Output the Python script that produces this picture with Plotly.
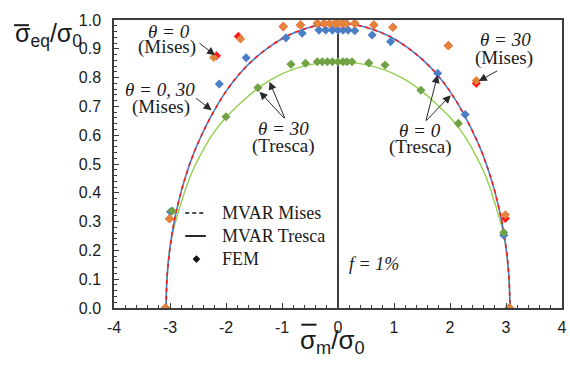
import plotly.graph_objects as go

# ---- model curves (MVAR) ----
curve_x = [-3.07, -3.06, -3.04, -3.0, -2.95, -2.9, -2.8, -2.7, -2.6, -2.5, -2.25, -2.0,
           -1.75, -1.5, -1.25, -1.0, -0.75, -0.5, -0.25, 0.0,
           0.25, 0.5, 0.75, 1.0, 1.25, 1.5, 1.75, 2.0, 2.25, 2.5, 2.6, 2.7, 2.8, 2.9,
           2.95, 3.0, 3.04, 3.06, 3.07]
mises_eq = [0.0, 0.080, 0.138, 0.210, 0.274, 0.324, 0.405, 0.470, 0.525, 0.573, 0.672, 0.752,
            0.815, 0.864, 0.903, 0.935, 0.958, 0.975, 0.985, 0.988,
            0.985, 0.975, 0.958, 0.935, 0.903, 0.864, 0.815, 0.752, 0.672, 0.573, 0.525, 0.470,
            0.405, 0.324, 0.274, 0.210, 0.138, 0.080, 0.0]
tresca0_eq = list(mises_eq)
tresca30_eq = [0.0, 0.08, 0.14, 0.21, 0.262, 0.30, 0.365, 0.425, 0.475, 0.515, 0.600, 0.662,
               0.710, 0.752, 0.787, 0.813, 0.832, 0.845, 0.852, 0.855,
               0.852, 0.845, 0.832, 0.813, 0.787, 0.752, 0.710, 0.662, 0.600, 0.515, 0.475,
               0.425, 0.365, 0.30, 0.262, 0.21, 0.14, 0.08, 0.0]

# ---- FEM results ----
fem_mises0_x = [-3.08, -3.01, -2.17, -1.78, -0.98, -0.67, -0.37, -0.25, -0.15, -0.05, 0.0,
                0.08, 0.15, 0.3, 0.64, 0.98, 1.97, 2.47, 2.99, 3.06]
fem_mises0_y = [0.0, 0.31, 0.876, 0.943, 0.977, 0.983, 0.988, 0.988, 0.988, 0.988, 0.988,
                0.988, 0.988, 0.988, 0.983, 0.975, 0.911, 0.780, 0.311, 0.0]
fem_mises30_x = [-3.08, -3.01, -2.22, -1.74, -0.97, -0.67, -0.37, -0.25, -0.15, -0.05, 0.0,
                 0.08, 0.15, 0.3, 0.64, 0.98, 1.97, 2.47, 2.99, 3.06]
fem_mises30_y = [0.0, 0.31, 0.870, 0.934, 0.977, 0.983, 0.988, 0.988, 0.988, 0.988, 0.988,
                 0.988, 0.988, 0.988, 0.983, 0.975, 0.911, 0.790, 0.324, 0.0]
fem_tresca0_x = [-3.08, -2.99, -2.12, -1.64, -0.93, -0.64, -0.34, -0.22, -0.1, 0.0, 0.09,
                 0.18, 0.3, 0.61, 0.94, 1.78, 2.27, 2.96, 3.06]
fem_tresca0_y = [0.0, 0.334, 0.778, 0.869, 0.938, 0.954, 0.965, 0.965, 0.965, 0.965, 0.965,
                 0.965, 0.963, 0.948, 0.925, 0.815, 0.672, 0.253, 0.0]
fem_tresca30_x = [-3.08, -2.96, -2.0, -1.43, -0.84, -0.58, -0.37, -0.28, -0.19, -0.10, 0.0,
                  0.09, 0.16, 0.25, 0.55, 0.84, 1.48, 2.15, 2.96, 3.06]
fem_tresca30_y = [0.0, 0.337, 0.664, 0.765, 0.846, 0.850, 0.855, 0.855, 0.855, 0.855, 0.855,
                  0.855, 0.855, 0.855, 0.851, 0.844, 0.756, 0.641, 0.262, 0.0]

x_ticks = [-4, -3, -2, -1, 0, 1, 2, 3, 4]
y_ticks = [0.0, 0.1, 0.2, 0.3, 0.4, 0.5, 0.6, 0.7, 0.8, 0.9, 1.0]

BLUE = "#4a7fc8"
RED = "#ff1a1a"
GREEN_LINE = "#92d050"
GREEN = "#70a244"
ORANGE = "#e4843a"
AXIS = "#3c3c3c"
INK = "#1a1a1a"

fig = go.Figure()
fig.add_trace(go.Scatter(x=curve_x, y=tresca30_eq, mode="lines", line=dict(color=GREEN_LINE, width=1.4, shape="spline")))
fig.add_trace(go.Scatter(x=curve_x, y=tresca0_eq, mode="lines", line=dict(color=BLUE, width=1.6, shape="spline")))
fig.add_trace(go.Scatter(x=curve_x, y=mises_eq, mode="lines", line=dict(color=RED, width=1.6, dash="4px,4px", shape="spline")))

mk = dict(symbol="diamond", size=7)
fig.add_trace(go.Scatter(x=fem_tresca0_x, y=fem_tresca0_y, mode="markers", marker=dict(color=BLUE, **mk)))
fig.add_trace(go.Scatter(x=fem_tresca30_x, y=fem_tresca30_y, mode="markers", marker=dict(color=GREEN, **mk)))
fig.add_trace(go.Scatter(x=fem_mises0_x, y=fem_mises0_y, mode="markers", marker=dict(color=RED, **mk)))
fig.add_trace(go.Scatter(x=fem_mises30_x, y=fem_mises30_y, mode="markers", marker=dict(color=ORANGE, **mk)))

serif = "Liberation Serif, Times New Roman, serif"
sans = "Liberation Sans, Arial, sans-serif"

ann = []
def label(x, y, text, size=19, italic=False):
    t = f"<i>{text}</i>" if italic else text
    ann.append(dict(x=x, y=y, xref="x", yref="y", text=t, showarrow=False,
                    font=dict(family=serif, size=size, color=INK),
                    xanchor="center", yanchor="middle"))

def arrow(x, y, ax, ay):
    ann.append(dict(x=x, y=y, xref="x", yref="y", text="", showarrow=True,
                    ax=ax, ay=ay, arrowhead=2, arrowsize=1.6, arrowwidth=1,
                    arrowcolor="#2a2a2a"))

label(-3.02, 0.960, "θ = 0", italic=True)
label(-3.06, 0.905, "(Mises)")
arrow(-2.196, 0.878, -17, -13)

label(-3.18, 0.758, "θ = 0, 30", italic=True)
label(-3.16, 0.699, "(Mises)")
arrow(-2.256, 0.687, -17, -13)

label(-0.97, 0.623, "θ = 30", italic=True)
label(-0.97, 0.564, "(Tresca)")
arrow(-1.40, 0.751, 26, 28)
arrow(-1.224, 0.786, 16, 38)

label(1.47, 0.616, "θ = 0", italic=True)
label(1.47, 0.558, "(Tresca)")
arrow(1.779, 0.809, -12, 47)
arrow(2.014, 0.739, -26, 27)

label(2.99, 0.932, "θ = 30", italic=True)
label(2.97, 0.868, "(Mises)")
arrow(2.514, 0.788, 20, -11)

label(0.64, 0.154, "f = 1%", size=18, italic=True)

# legend drawn by hand
leg_x0, leg_x1, leg_tx = 0.159, 0.205, 0.236
rows = [0.330, 0.250, 0.170]
shapes = [
    dict(type="line", xref="paper", yref="paper", x0=leg_x0, x1=leg_x1, y0=rows[0], y1=rows[0],
         line=dict(color="#111", width=1.6, dash="4px,3px")),
    dict(type="line", xref="paper", yref="paper", x0=leg_x0, x1=leg_x1, y0=rows[1], y1=rows[1],
         line=dict(color="#111", width=1.8)),
]
cx, cy, dx, dy = 0.184, rows[2], 0.0085, 0.0135
shapes.append(dict(type="path", xref="paper", yref="paper",
                   path=f"M {cx-dx},{cy} L {cx},{cy+dy} L {cx+dx},{cy} L {cx},{cy-dy} Z",
                   fillcolor="#111", line=dict(width=0)))
for r, t in zip(rows, ["MVAR Mises", "MVAR Tresca", "FEM"]):
    ann.append(dict(x=leg_tx, y=r, xref="paper", yref="paper", text=t, showarrow=False,
                    xanchor="left", yanchor="middle",
                    font=dict(family=serif, size=18, color=INK)))

# axis titles (bar over the leading sigma drawn as a short line)
ann.append(dict(x=-0.225, y=0.948, xref="paper", yref="paper", xanchor="left", yanchor="middle",
                text="σ<sub>eq</sub>/σ<sub>0</sub>", showarrow=False,
                font=dict(family=sans, size=25, color=INK)))
ann.append(dict(x=0.487, y=-0.118, xref="paper", yref="paper", xanchor="center", yanchor="middle",
                text="σ<sub>m</sub>/σ<sub>0</sub>", showarrow=False,
                font=dict(family=sans, size=26, color=INK)))
shapes.append(dict(type="line", xref="paper", yref="paper", x0=-0.223, x1=-0.190, y0=0.982, y1=0.982,
                   line=dict(color=INK, width=2)))
shapes.append(dict(type="line", xref="paper", yref="paper", x0=0.418, x1=0.452, y0=-0.058, y1=-0.058,
                   line=dict(color=INK, width=2)))

fig.update_layout(
    width=570, height=369,
    margin=dict(l=114, r=3, t=20, b=61),
    paper_bgcolor="white", plot_bgcolor="white",
    showlegend=False,
    annotations=ann, shapes=shapes,
    xaxis=dict(range=[-4, 4], tickvals=x_ticks, ticktext=[str(v) for v in x_ticks],
               ticks="inside", ticklen=5, tickcolor=AXIS, tickwidth=1.2,
               minor=dict(dtick=0.2, ticks="inside", ticklen=3, tickcolor=AXIS, tickwidth=1),
               showline=True, linecolor=AXIS, linewidth=1.5, mirror=True,
               showgrid=False, zeroline=True, zerolinecolor=AXIS, zerolinewidth=1.5,
               tickfont=dict(family=sans, size=16, color=INK), ticklabelstandoff=4),
    yaxis=dict(range=[0, 1], tickvals=y_ticks, ticktext=[f"{v:.1f}" for v in y_ticks],
               ticks="inside", ticklen=5, tickcolor=AXIS, tickwidth=1.2,
               minor=dict(dtick=0.02, ticks="inside", ticklen=3, tickcolor=AXIS, tickwidth=1),
               showline=True, linecolor=AXIS, linewidth=1.5, mirror=True,
               showgrid=False, zeroline=False,
               tickfont=dict(family=sans, size=16, color=INK), ticklabelstandoff=8),
)

fig.write_html("out.html")
